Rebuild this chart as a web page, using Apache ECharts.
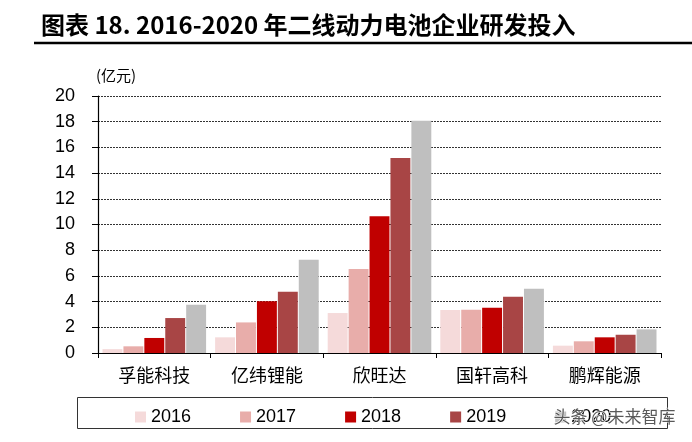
<!DOCTYPE html>
<html><head><meta charset="utf-8">
<script src="https://cdn.jsdelivr.net/npm/echarts@6/dist/echarts.min.js"></script>
<style>html,body{margin:0;padding:0;background:#fff}#c{width:692px;height:442px}</style>
</head><body><div id="c"></div>
<script>
const categories = ['孚能科技', '亿纬锂能', '欣旺达', '国轩高科', '鹏辉能源'];
const years = ['2016', '2017', '2018', '2019', '2020'];
const v2016 = [0.3, 1.22, 3.11, 3.34, 0.57];
const v2017 = [0.52, 2.38, 6.53, 3.37, 0.91];
const v2018 = [1.17, 4.02, 10.65, 3.52, 1.22];
const v2019 = [2.72, 4.77, 15.18, 4.38, 1.42];
const v2020 = [3.76, 7.25, 18.08, 5.0, 1.84];
const yTicks = [0, 2, 4, 6, 8, 10, 12, 14, 16, 18, 20];
const colors = ['#F5DADA', '#E8ADAA', '#C00000', '#A84545', '#BFBFBF'];
const seriesValues = [v2016, v2017, v2018, v2019, v2020];

const chart = echarts.init(document.getElementById('c'), null, {renderer: 'canvas'});
const numFont = '"Liberation Sans Narrow", "Liberation Sans", Arial, sans-serif';
const cjkFont = '"Noto Sans CJK SC", sans-serif';
chart.setOption({
  animation: false,
  backgroundColor: '#fff',
  color: colors,
  title: {
    text: '图表 18. 2016-2020 年二线动力电池企业研发投入',
    left: 36, top: 8,
    textStyle: {fontFamily: cjkFont, fontSize: 24, fontWeight: 'bold', color: '#000'}
  },
  graphic: [
    {type: 'line', shape: {x1: 34, y1: 43, x2: 692, y2: 43}, style: {stroke: '#000', lineWidth: 2.5}},
    {type: 'text', left: 96, top: 68, style: {text: '(亿元)', font: '15px ' + cjkFont, fill: '#000'}},
    {type: 'rect', shape: {x: 77.5, y: 397.5, width: 590, height: 31}, style: {fill: 'none', stroke: '#333', lineWidth: 1}},
    {type: 'text', left: 553, top: 408, z: 100, style: {text: '头条 @未来智库', font: '17px ' + cjkFont, fill: 'rgba(60,60,60,0.85)', stroke: '#fff', lineWidth: 1}}
  ],
  legend: {
    left: 130, top: 403,
    icon: 'rect', itemWidth: 11, itemHeight: 11, itemGap: 49,
    textStyle: {fontFamily: numFont, fontSize: 18, color: '#000'},
    data: years
  },
  grid: {left: 98, right: 31, top: 96, bottom: 89, containLabel: false},
  xAxis: {
    type: 'category', data: categories,
    axisLine: {lineStyle: {color: '#000', width: 1.2}},
    axisTick: {show: true, length: 5, lineStyle: {color: '#000'}},
    axisLabel: {fontFamily: cjkFont, fontSize: 18, color: '#000', margin: 13}
  },
  yAxis: {
    type: 'value', min: 0, max: 20, interval: 2,
    axisLine: {show: true, lineStyle: {color: '#000', width: 1.2}},
    axisTick: {show: true, length: 6, inside: false, lineStyle: {color: '#000'}},
    axisLabel: {fontFamily: numFont, fontSize: 18, color: '#000', margin: 23,
      formatter: v => yTicks.includes(v) ? String(v) : ''},
    splitLine: {show: true, lineStyle: {color: '#333', type: [2, 1], width: 1}}
  },
  series: years.map((y, i) => ({
    name: y, type: 'bar', data: seriesValues[i],
    barGap: '5%', barCategoryGap: '8%',
    itemStyle: {color: colors[i]}
  }))
});
</script></body></html>
